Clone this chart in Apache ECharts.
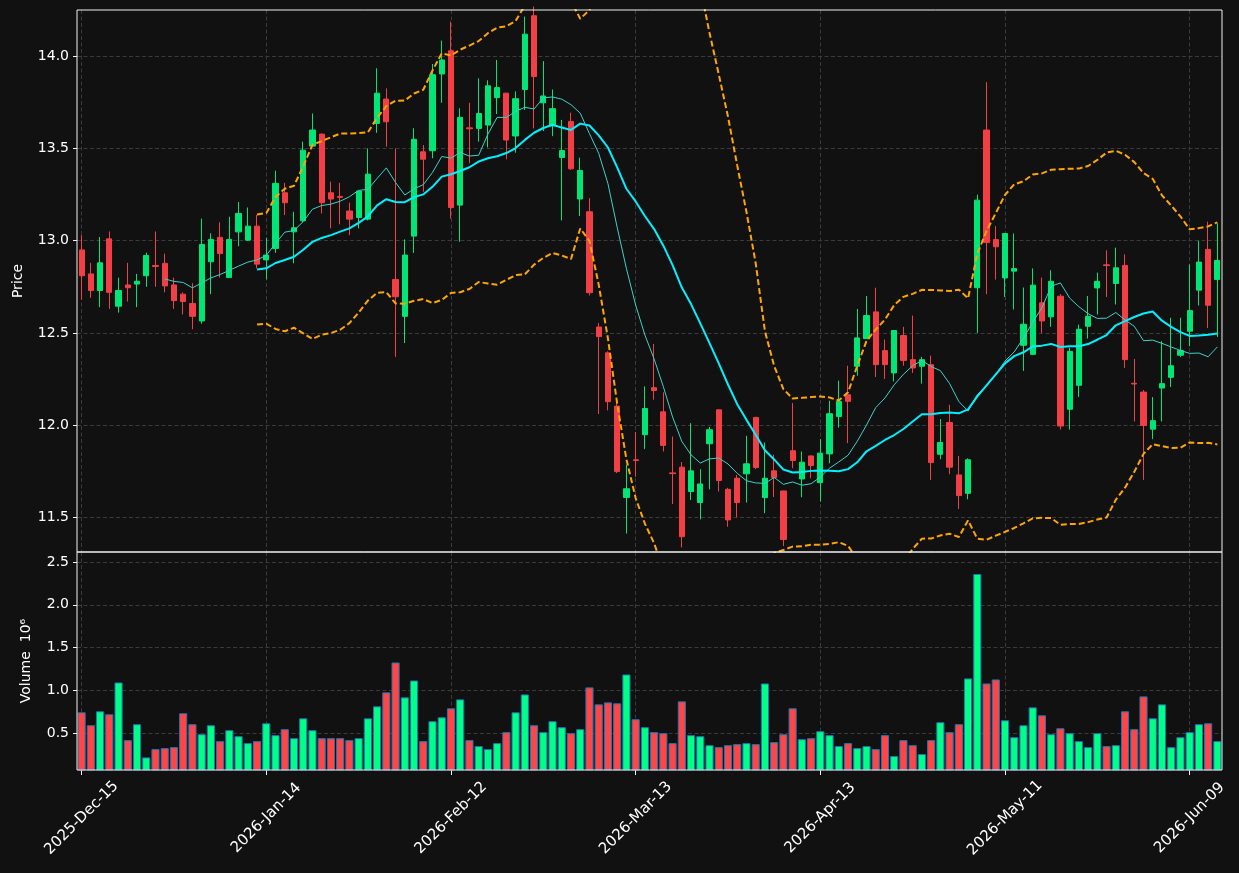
<!DOCTYPE html>
<html>
<head>
<meta charset="utf-8">
<script src="https://cdn.jsdelivr.net/npm/echarts@6/dist/echarts.min.js"></script>
<style>
  html, body { margin: 0; padding: 0; background: #111111; }
  #main { width: 1239px; height: 873px; }
</style>
</head>
<body>
<div id="main"></div>
<script>
// trading days shown on the x axis
var dates = [
  '2025-Dec-15','2025-Dec-16','2025-Dec-17','2025-Dec-18','2025-Dec-19','2025-Dec-22','2025-Dec-23','2025-Dec-24','2025-Dec-26','2025-Dec-29','2025-Dec-30','2025-Dec-31',
  '2026-Jan-02','2026-Jan-05','2026-Jan-06','2026-Jan-07','2026-Jan-08','2026-Jan-09','2026-Jan-12','2026-Jan-13','2026-Jan-14','2026-Jan-15','2026-Jan-16','2026-Jan-20',
  '2026-Jan-21','2026-Jan-22','2026-Jan-23','2026-Jan-26','2026-Jan-27','2026-Jan-28','2026-Jan-29','2026-Jan-30',
  '2026-Feb-02','2026-Feb-03','2026-Feb-04','2026-Feb-05','2026-Feb-06','2026-Feb-09','2026-Feb-10','2026-Feb-11','2026-Feb-12','2026-Feb-13','2026-Feb-17','2026-Feb-18',
  '2026-Feb-19','2026-Feb-20','2026-Feb-23','2026-Feb-24','2026-Feb-25','2026-Feb-26','2026-Feb-27',
  '2026-Mar-02','2026-Mar-03','2026-Mar-04','2026-Mar-05','2026-Mar-06','2026-Mar-09','2026-Mar-10','2026-Mar-11','2026-Mar-12','2026-Mar-13','2026-Mar-16','2026-Mar-17',
  '2026-Mar-18','2026-Mar-19','2026-Mar-20','2026-Mar-23','2026-Mar-24','2026-Mar-25','2026-Mar-26','2026-Mar-27','2026-Mar-30','2026-Mar-31',
  '2026-Apr-01','2026-Apr-02','2026-Apr-06','2026-Apr-07','2026-Apr-08','2026-Apr-09','2026-Apr-10','2026-Apr-13','2026-Apr-14','2026-Apr-15','2026-Apr-16','2026-Apr-17',
  '2026-Apr-20','2026-Apr-21','2026-Apr-22','2026-Apr-23','2026-Apr-24','2026-Apr-27','2026-Apr-28','2026-Apr-29','2026-Apr-30',
  '2026-May-01','2026-May-04','2026-May-05','2026-May-06','2026-May-07','2026-May-08','2026-May-11','2026-May-12','2026-May-13','2026-May-14','2026-May-15','2026-May-18',
  '2026-May-19','2026-May-20','2026-May-21','2026-May-22','2026-May-26','2026-May-27','2026-May-28','2026-May-29',
  '2026-Jun-01','2026-Jun-02','2026-Jun-03','2026-Jun-04','2026-Jun-05','2026-Jun-08','2026-Jun-09','2026-Jun-10','2026-Jun-11','2026-Jun-12'
];

var opens = [
  12.95,12.82,12.73,13.01,12.645,12.76,12.765,12.81,12.865,12.877,
  12.76,12.71,12.66,12.565,12.886,13.018,12.80,13.048,13.003,13.079,
  12.896,12.958,13.26,13.048,13.108,13.513,13.578,13.26,13.24,13.161,
  13.126,13.117,13.636,13.768,12.79,12.59,13.025,13.482,13.488,13.904,
  14.03,13.193,13.612,13.609,13.627,13.776,13.80,13.568,13.82,14.22,
  13.748,13.623,13.451,13.647,13.226,13.157,12.532,12.392,12.103,11.608,
  11.812,11.948,12.203,12.072,11.741,11.772,11.64,11.58,11.899,12.083,
  11.652,11.712,11.736,12.042,11.607,11.752,11.643,11.861,11.708,11.833,
  11.688,11.844,12.047,12.165,12.319,12.469,12.614,12.404,12.283,12.486,
  12.355,12.319,12.328,11.842,12.014,11.73,11.63,12.745,13.60,13.006,
  12.798,12.835,12.433,12.384,12.663,12.587,12.699,12.086,12.216,12.536,
  12.744,12.869,12.768,12.866,12.227,12.179,11.978,12.201,12.259,12.379,
  12.509,12.732,12.953,12.79
];
var closes = [
  12.81,12.73,12.88,12.72,12.73,12.745,12.78,12.92,12.86,12.755,
  12.675,12.67,12.59,12.98,13.007,12.93,13.007,13.148,13.079,12.873,
  12.922,13.311,13.206,13.07,13.491,13.60,13.206,13.226,13.235,13.117,
  13.269,13.361,13.80,13.645,12.696,12.922,13.55,13.442,13.90,13.98,
  13.18,13.669,13.607,13.69,13.84,13.83,13.546,13.77,14.12,13.89,
  13.785,13.716,13.489,13.39,13.381,12.718,12.48,12.127,11.748,11.655,
  11.808,12.09,12.188,11.89,11.737,11.395,11.752,11.681,11.975,11.70,
  11.486,11.58,11.79,11.77,11.712,11.716,11.38,11.808,11.799,11.781,
  11.848,12.062,12.129,12.129,12.473,12.594,12.328,12.328,12.513,12.351,
  12.31,12.355,11.797,11.906,11.772,11.618,11.812,13.22,12.99,12.967,
  13.039,12.849,12.547,12.759,12.565,12.78,11.995,12.40,12.52,12.59,
  12.78,12.865,12.853,12.355,12.223,11.998,12.024,12.225,12.322,12.404,
  12.621,12.884,12.65,12.893
];
var lows = [
  12.68,12.69,12.64,12.63,12.61,12.67,12.64,12.75,12.75,12.72,
  12.63,12.60,12.52,12.55,12.71,12.80,12.80,12.97,13.00,12.85,
  12.79,12.934,13.139,12.877,13.10,13.51,13.148,13.067,13.089,13.03,
  13.067,13.11,13.585,13.51,12.37,12.445,12.934,13.265,13.447,13.748,
  13.12,12.994,13.42,13.537,13.506,13.687,13.441,13.477,13.709,13.609,
  13.595,13.567,13.11,13.384,13.134,12.703,12.06,12.08,11.74,11.412,
  11.72,11.87,12.138,11.857,11.572,11.337,11.594,11.489,11.652,11.64,
  11.449,11.50,11.58,11.761,11.522,11.61,11.344,11.766,11.609,11.712,
  11.585,11.793,11.987,11.902,12.268,12.467,12.261,12.25,12.237,12.322,
  12.283,12.225,11.703,11.815,11.734,11.545,11.598,12.50,12.71,12.789,
  12.695,12.627,12.294,12.38,12.50,12.533,11.976,11.976,12.153,12.469,
  12.60,12.695,12.654,12.31,12.02,11.703,11.924,12.02,12.207,12.37,
  12.428,12.649,12.527,12.478
];
var highs = [
  13.03,12.88,13.02,13.05,12.80,12.88,12.82,12.935,13.05,12.93,
  12.80,12.72,12.77,13.12,13.04,13.10,13.13,13.21,13.18,13.14,
  13.016,13.38,13.314,13.157,13.537,13.69,13.58,13.32,13.314,13.206,
  13.27,13.50,13.935,13.826,13.50,13.007,13.61,13.519,13.958,14.085,
  14.188,13.718,13.748,13.88,13.87,13.98,13.80,13.81,14.215,14.27,
  13.974,13.82,13.655,13.694,13.45,13.231,12.554,12.40,12.12,11.785,
  11.963,12.21,12.44,12.178,11.938,11.80,12.011,11.761,11.99,12.085,
  11.66,11.73,11.942,12.045,11.906,11.84,11.645,12.12,11.857,11.835,
  11.924,12.132,12.241,12.322,12.63,12.70,12.745,12.464,12.515,12.533,
  12.594,12.37,12.377,12.033,12.11,11.833,11.82,13.25,13.86,13.079,
  13.04,13.039,12.746,12.85,12.80,12.84,12.71,12.42,12.545,12.70,
  12.827,12.948,12.962,12.926,12.359,12.19,12.152,12.455,12.582,12.582,
  12.871,13.0,13.103,13.094
];
var volumes = [
  744000,593000,756000,721000,1093000,419000,605000,217000,314000,326000,
  337000,733000,605000,488000,593000,407000,535000,465000,384000,407000,
  616000,477000,547000,442000,674000,535000,442000,442000,442000,419000,
  442000,674000,814000,977000,1326000,919000,1116000,407000,640000,686000,
  791000,895000,419000,349000,314000,384000,512000,744000,953000,593000,
  512000,640000,570000,500000,547000,1035000,837000,860000,849000,1186000,
  663000,570000,512000,500000,384000,872000,477000,465000,360000,337000,
  360000,372000,384000,372000,1081000,395000,488000,791000,430000,442000,
  523000,477000,349000,384000,326000,349000,314000,477000,233000,419000,
  360000,256000,419000,628000,512000,605000,1140000,2360000,1081000,1128000,
  651000,453000,593000,802000,709000,488000,558000,500000,407000,337000,
  500000,349000,360000,756000,547000,930000,674000,837000,337000,453000,
  512000,605000,616000,407000
];

var priceTicks = [11.5, 12.0, 12.5, 13.0, 13.5, 14.0];
var volumeTicks = [0.5, 1.0, 1.5, 2.0, 2.5];

var UP = '#00e676', DOWN = '#f23f45';
var VOL_UP = '#00ff85', VOL_DOWN = '#ff4545';
var GRID_LINE = { color: '#3a3a3a', type: [4, 2.5], width: 1 };
var FONT = 'DejaVu Sans';

// rolling mean / std of the closes (what the original indicators are)
function rolling(n, fn) {
  return closes.map(function (c, i) {
    if (i < n - 1) return '-';
    var w = closes.slice(i - n + 1, i + 1);
    return fn(w);
  });
}
function mean(w) { return w.reduce(function (a, b) { return a + b; }, 0) / w.length; }
function std(w) {
  var m = mean(w);
  return Math.sqrt(w.reduce(function (a, b) { return a + (b - m) * (b - m); }, 0) / (w.length - 1));
}
var ma10 = rolling(10, mean);
var ma20 = rolling(20, mean);
var bbUp = rolling(20, function (w) { return mean(w) + 2 * std(w); });
var bbDn = rolling(20, function (w) { return mean(w) - 2 * std(w); });

var kData = dates.map(function (d, i) { return [opens[i], closes[i], lows[i], highs[i]]; });
var volData = volumes.map(function (v, i) {
  return { value: v, itemStyle: { color: closes[i] >= opens[i] ? VOL_UP : VOL_DOWN } };
});

function pickTick(v, ticks) {
  var r = +v.toFixed(1);
  return ticks.indexOf(r) >= 0 && Math.abs(v - r) < 1e-6 ? r.toFixed(1) : '';
}

var chart = echarts.init(document.getElementById('main'), null, { renderer: 'canvas' });
chart.setOption({
  backgroundColor: '#111111',
  animation: false,
  textStyle: { fontFamily: FONT },
  grid: [
    { left: 77, right: 17, top: 10, height: 542, show: true, borderColor: '#f2f2f2', borderWidth: 1, z: 5 },
    { left: 77, right: 17, top: 552, height: 218, show: true, borderColor: '#f2f2f2', borderWidth: 1, z: 5 }
  ],
  xAxis: [
    {
      type: 'category', gridIndex: 0, data: dates, boundaryGap: true,
      axisLine: { show: false },
      axisTick: { show: false },
      axisLabel: { show: false },
      splitLine: { show: true, interval: 19, alignWithLabel: true, lineStyle: GRID_LINE }
    },
    {
      type: 'category', gridIndex: 1, data: dates, boundaryGap: true,
      axisLine: { show: false },
      axisTick: { show: true, interval: 19, alignWithLabel: true, length: 5, lineStyle: { color: '#f2f2f2' } },
      axisLabel: {
        interval: 19, rotate: 45, align: 'center', verticalAlign: 'middle', margin: 48,
        color: '#ffffff', fontSize: 15, fontFamily: FONT
      },
      splitLine: { show: true, interval: 19, alignWithLabel: true, lineStyle: GRID_LINE }
    }
  ],
  yAxis: [
    {
      type: 'value', gridIndex: 0, min: 11.312, max: 14.251,
      name: 'Price', nameLocation: 'middle', nameGap: 52, nameRotate: 90,
      nameTextStyle: { color: '#ffffff', fontSize: 14, fontFamily: FONT },
      axisLine: { show: false },
      axisTick: { show: true, length: 4, lineStyle: { color: '#f2f2f2' } },
      axisLabel: {
        color: '#ffffff', fontSize: 14, fontFamily: FONT, margin: 8,
        showMinLabel: false, showMaxLabel: false,
        formatter: function (v) { return pickTick(v, priceTicks); }
      },
      splitLine: { show: true, showMinLine: false, showMaxLine: false, lineStyle: GRID_LINE }
    },
    {
      type: 'value', gridIndex: 1, min: 70000, max: 2617000,
      name: 'Volume  10\u2076', nameLocation: 'middle', nameGap: 44, nameRotate: 90,
      nameTextStyle: { color: '#ffffff', fontSize: 14, fontFamily: FONT },
      axisLine: { show: false },
      axisTick: { show: true, length: 4, lineStyle: { color: '#f2f2f2' } },
      axisLabel: {
        color: '#ffffff', fontSize: 14, fontFamily: FONT, margin: 8,
        showMinLabel: false, showMaxLabel: false,
        formatter: function (v) { return pickTick(v / 1e6, volumeTicks); }
      },
      splitLine: { show: true, showMinLine: false, showMaxLine: false, lineStyle: GRID_LINE }
    }
  ],
  series: [
    {
      type: 'candlestick', xAxisIndex: 0, yAxisIndex: 0, data: kData,
      barWidth: '62%',
      itemStyle: { color: UP, color0: DOWN, borderColor: UP, borderColor0: DOWN, borderWidth: 1 }
    },
    {
      type: 'line', xAxisIndex: 0, yAxisIndex: 0, data: ma10, symbol: 'none',
      lineStyle: { color: '#3cd2c8', width: 1 }, z: 3
    },
    {
      type: 'line', xAxisIndex: 0, yAxisIndex: 0, data: ma20, symbol: 'none',
      lineStyle: { color: '#00f0ff', width: 2 }, z: 3
    },
    {
      type: 'line', xAxisIndex: 0, yAxisIndex: 0, data: bbUp, symbol: 'none',
      lineStyle: { color: '#ffa500', width: 2, type: [6, 3] }, z: 3
    },
    {
      type: 'line', xAxisIndex: 0, yAxisIndex: 0, data: bbDn, symbol: 'none',
      lineStyle: { color: '#ffa500', width: 2, type: [6, 3] }, z: 3
    },
    {
      type: 'bar', xAxisIndex: 1, yAxisIndex: 1, data: volData,
      barWidth: '88%',
      itemStyle: { borderColor: '#1f77b4', borderWidth: 1 }
    }
  ]
});
</script>
</body>
</html>
